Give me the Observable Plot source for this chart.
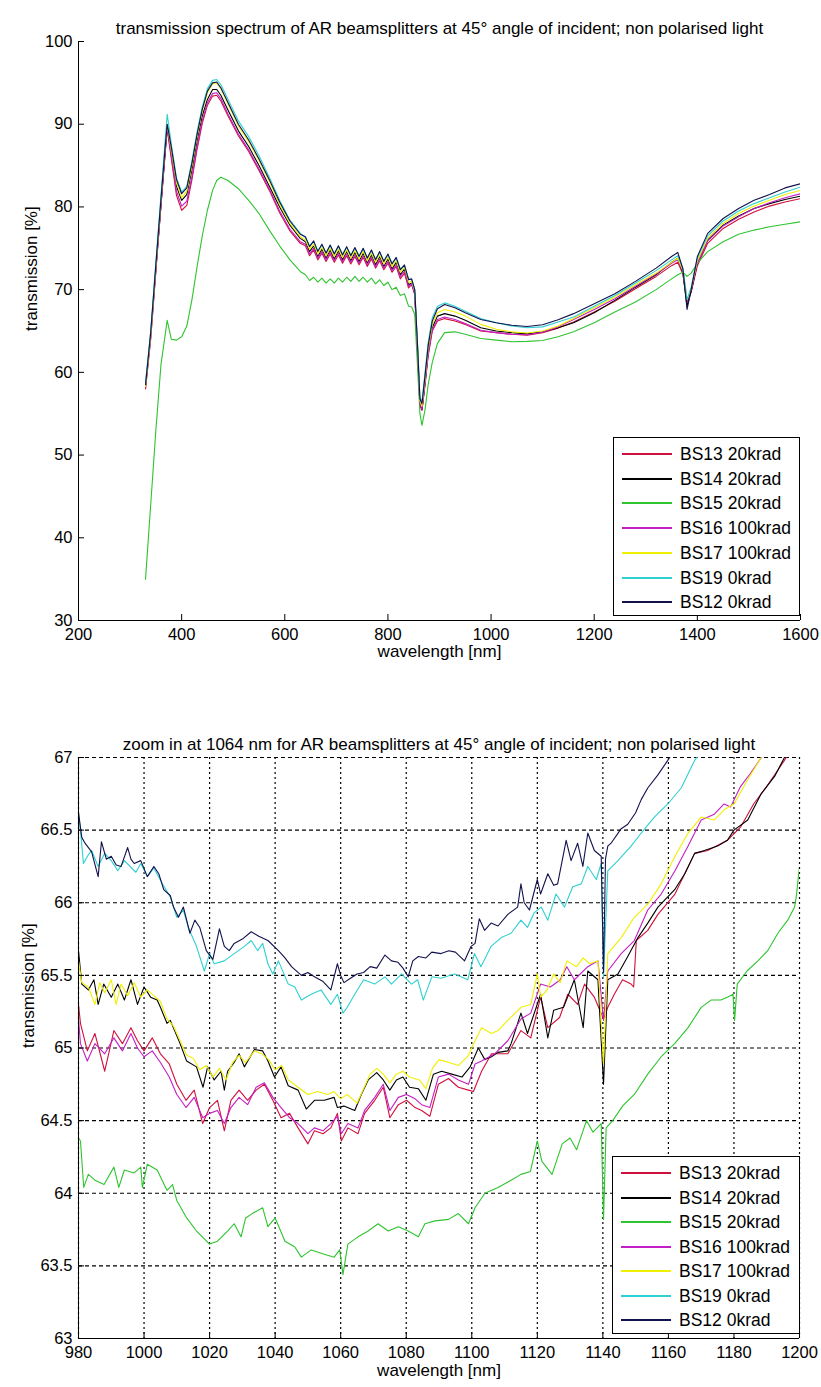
<!DOCTYPE html>
<html><head><meta charset="utf-8">
<script src="https://cdn.jsdelivr.net/npm/d3@7"></script>
<script src="https://cdn.jsdelivr.net/npm/@observablehq/plot@0.6"></script>
<style>
body{margin:0;background:#fff;font-family:"Liberation Sans",Arial,sans-serif;}
#wrap{position:relative;width:821px;height:1387px;background:#fff;overflow:hidden;}
.chart{position:absolute;left:0;}
.chart svg{display:block;}
</style></head><body><div id="wrap"></div>
<script>
// ---------- labels ----------
const names = ["BS13 20krad","BS14 20krad","BS15 20krad","BS16 100krad","BS17 100krad","BS19 0krad","BS12 0krad"];
const colors = ["#d0103c","#000000","#2ec42e","#c41ec4","#f0f000","#2fd0d0","#12124e"];
const titleTop = "transmission spectrum of AR beamsplitters at 45° angle of incident; non polarised light";
const titleZoom = "zoom in at 1064 nm for AR beamsplitters at 45° angle of incident; non polarised light";
const xLabel = "wavelength [nm]";
const yLabel = "transmission [%]";
const xTicksTop = [200,400,600,800,1000,1200,1400,1600];
const yTicksTop = [30,40,50,60,70,80,90,100];
const xTicksZoom = [980,1000,1020,1040,1060,1080,1100,1120,1140,1160,1180,1200];
const yTicksZoom = [63,63.5,64,64.5,65,65.5,66,66.5,67];

// ---------- full spectrum (top) ----------
const wlTop = [330,340,350,360,368,372,380,390,400,410,420,430,440,450,460,468,476,490,510,530,550,570,590,610,630,
640,648,656,664,672,680,688,696,704,712,720,728,736,744,752,760,768,776,784,792,800,808,816,824,832,840,
846,852,858,862,866,872,878,886,896,910,930,950,980,1010,1040,1070,1100,1130,1160,1200,1240,1280,1320,1350,1362,1372,1380,1388,1400,1420,1450,1480,1510,1540,1570,1600];
const topBS13 = [58.0,64.0,72.2,80.2,86.4,89.4,85.8,81.4,79.6,80.2,83.3,87.0,90.1,92.3,93.4,93.5,92.8,91.0,88.6,86.7,84.4,82.0,79.3,77.1,75.6,
75.3,74.1,74.8,73.6,74.4,73.4,74.3,73.3,74.2,73.2,74.1,73.1,74.0,73.0,73.9,72.8,73.7,72.6,73.5,72.4,73.2,72.1,72.8,71.3,72.0,70.2,
70.6,69.4,61.5,56.0,55.4,58.5,62.0,65.0,66.2,66.5,66.2,65.8,65.0,64.8,64.6,64.5,64.8,65.35,66.1,67.3,68.6,70.1,71.6,72.9,73.3,71.9,68.5,69.7,72.9,75.6,77.4,78.5,79.4,80.1,80.6,81.0];
const topBS14 = [58.3,64.5,72.5,80.3,86.7,89.8,86.5,82.5,80.8,81.5,84.5,88.0,91.0,93.0,94.2,94.2,93.5,91.7,89.2,87.3,85.0,82.5,80.0,77.8,76.2,
75.8,74.6,75.3,74.0,74.9,73.8,74.8,73.7,74.7,73.6,74.6,73.5,74.5,73.4,74.4,73.2,74.2,73.0,74.0,72.8,73.7,72.5,73.3,71.8,72.5,70.6,
70.8,69.6,62.0,56.2,55.5,58.8,62.4,65.4,66.8,67.1,66.8,66.3,65.4,65.0,64.8,64.65,64.9,65.4,66.0,67.2,68.7,70.3,71.8,73.3,73.8,72.0,68.0,69.8,73.2,76.0,77.8,78.9,79.8,80.4,80.9,81.3];
const topBS15 = [35.0,44.0,53.0,61.0,64.5,66.3,64.0,63.9,64.3,65.6,68.8,72.8,76.5,79.6,82.0,83.2,83.6,83.2,82.2,80.8,79.2,77.2,75.3,73.6,72.2,
71.8,71.1,71.5,70.9,71.4,70.8,71.3,70.8,71.4,70.9,71.5,71.0,71.6,71.0,71.5,70.9,71.4,70.7,71.2,70.5,70.9,70.0,70.3,69.3,69.5,68.0,
67.9,67.0,60.0,55.0,53.6,55.5,58.5,61.2,63.5,64.8,64.9,64.6,64.1,63.9,63.7,63.75,63.85,64.3,64.9,66.0,67.3,68.5,70.0,71.3,71.8,72.1,71.6,72.0,73.2,74.6,75.8,76.7,77.2,77.6,77.9,78.2];
const topBS16 = [58.2,64.2,72.4,80.4,86.6,89.6,86.1,81.9,80.1,80.7,83.7,87.3,90.4,92.6,93.7,93.8,93.1,91.2,88.8,86.9,84.6,82.2,79.5,77.3,75.8,
75.5,74.3,75.0,73.8,74.6,73.6,74.5,73.5,74.4,73.4,74.3,73.3,74.2,73.2,74.1,73.0,73.9,72.8,73.7,72.6,73.4,72.3,73.0,71.6,72.2,70.4,
70.7,69.5,61.7,56.1,55.5,58.6,62.1,65.1,66.4,66.7,66.4,65.9,65.1,64.8,64.6,64.55,64.85,65.5,66.4,67.6,68.9,70.4,71.9,73.2,73.6,72.2,68.7,69.9,73.2,75.9,77.7,78.8,79.8,80.5,81.1,81.6];
const topBS17 = [58.3,64.4,72.7,80.8,87.2,90.0,86.8,82.9,81.1,81.9,85.0,88.5,91.6,93.8,94.9,95.0,94.3,92.4,89.8,87.9,85.6,83.1,80.3,78.0,76.4,
76.0,74.9,75.5,74.3,75.1,74.1,75.0,74.0,74.9,73.9,74.8,73.8,74.7,73.7,74.6,73.5,74.4,73.3,74.2,73.1,73.9,72.8,73.5,72.1,72.7,70.9,
71.0,69.8,62.3,56.5,55.9,59.2,62.8,65.8,67.2,67.6,67.3,66.8,65.8,65.2,64.9,64.75,65.0,65.6,66.5,67.8,69.1,70.6,72.0,73.3,73.8,72.3,68.8,70.1,73.5,76.2,78.0,79.2,80.1,80.8,81.5,82.0];
const topBS19 = [58.8,65.0,73.3,81.5,88.0,91.2,87.6,83.5,81.8,82.5,85.6,89.1,92.1,94.3,95.3,95.4,94.8,93.0,90.4,88.5,86.2,83.6,80.8,78.4,76.8,
76.3,75.3,75.8,74.7,75.4,74.5,75.3,74.4,75.2,74.3,75.1,74.2,75.0,74.1,74.9,73.9,74.7,73.7,74.5,73.5,74.2,73.2,73.8,72.5,72.9,71.3,
71.2,70.0,62.8,57.0,56.5,60.0,63.6,66.6,68.0,68.4,68.0,67.4,66.5,66.0,65.6,65.4,65.5,66.1,66.7,68.0,69.3,70.8,72.3,73.6,74.1,72.6,68.8,70.3,73.8,76.5,78.3,79.5,80.4,81.1,81.8,82.4];
const topBS12 = [58.5,64.8,73.0,81.0,87.2,90.0,87.2,83.3,81.6,82.3,85.3,88.8,91.8,94.0,95.0,95.1,94.4,92.6,90.0,88.1,85.8,83.3,80.6,78.3,76.7,
76.4,75.2,75.9,74.6,75.5,74.4,75.4,74.3,75.3,74.2,75.2,74.1,75.1,74.0,75.0,73.8,74.8,73.6,74.6,73.4,74.3,73.1,73.9,72.4,73.0,71.2,
71.3,70.0,62.5,56.8,56.2,59.6,63.2,66.2,67.7,68.2,67.8,67.2,66.4,66.0,65.7,65.55,65.75,66.35,67.1,68.3,69.5,71.0,72.6,74.0,74.5,72.5,67.6,70.0,74.0,76.8,78.6,79.8,80.8,81.5,82.3,82.8];

// ---------- zoom 980-1200 nm (bottom): [wavelength, transmission] ----------
const zoomBS13 = [[980,65.3],[980.6,65.17],[982.7,64.98],[985,65.1],[988,64.84],[990.8,65.12],[993.4,65.03],[996,65.14],[998,65.05],[1000,64.98],[1002.5,65.07],[1005,64.96],[1007.7,64.89],[1010,64.75],[1012.8,64.64],[1015.3,64.71],[1017.9,64.48],[1020,64.59],[1022.4,64.64],[1024.5,64.43],[1026.5,64.64],[1029,64.71],[1031.6,64.64],[1034.2,64.71],[1036.7,64.75],[1039.3,64.64],[1041.8,64.52],[1044.4,64.55],[1047,64.45],[1050,64.34],[1052,64.43],[1054.6,64.41],[1057,64.45],[1059,64.55],[1060.2,64.36],[1062.2,64.45],[1065.3,64.41],[1067.3,64.55],[1070.4,64.64],[1073,64.73],[1075,64.52],[1077.6,64.61],[1080.1,64.64],[1082.7,64.59],[1084.7,64.57],[1087.2,64.53],[1089.8,64.75],[1092.9,64.79],[1095.9,64.73],[1099,64.71],[1100.5,64.7],[1103,64.84],[1106,64.96],[1111,64.96],[1115,65.12],[1118,65.07],[1121,65.35],[1123.2,65.14],[1126.8,65.21],[1129.3,65.37],[1132.3,65.3],[1134.4,65.44],[1137.4,65.35],[1140.2,65.2],[1141.5,65.28],[1143.5,65.37],[1146,65.47],[1148.6,65.44],[1149.4,65.42],[1150.2,65.74],[1153.7,65.81],[1156.8,65.92],[1162,66.06],[1168,66.34],[1172,66.36],[1178,66.43],[1182,66.52],[1186,66.68],[1190,66.8],[1195.4,66.98],[1200,67.15]];
const zoomBS14 = [[980,65.67],[981,65.44],[983,65.4],[984.7,65.47],[986,65.3],[987.7,65.44],[990,65.35],[992,65.44],[994,65.33],[996,65.47],[998,65.3],[1000,65.42],[1002,65.35],[1004,65.33],[1005,65.28],[1007,65.17],[1008,65.19],[1011,65.03],[1013,64.91],[1016,64.87],[1018,64.73],[1019.4,64.87],[1021.4,64.78],[1023.5,64.84],[1024.5,64.71],[1025.5,64.84],[1027.5,64.9],[1029,64.96],[1030.6,64.87],[1033.7,64.99],[1036.2,64.98],[1037.8,64.91],[1039.8,64.8],[1041.8,64.87],[1044,64.74],[1047,64.71],[1049.5,64.58],[1052,64.64],[1055,64.64],[1058,64.66],[1059,64.59],[1061,64.6],[1064.3,64.57],[1066.3,64.68],[1068.4,64.78],[1071,64.83],[1073,64.78],[1075,64.71],[1077,64.78],[1079,64.8],[1081,64.73],[1083.7,64.72],[1086,64.64],[1088.3,64.82],[1090.8,64.84],[1093.9,64.82],[1097,64.8],[1099.5,64.87],[1102,65.0],[1104,64.92],[1106,64.94],[1108,64.97],[1111,64.98],[1112,65.03],[1115,65.24],[1117,65.1],[1121,65.37],[1123.2,65.07],[1125,65.26],[1128,65.28],[1131.3,65.47],[1134,65.14],[1135.4,65.53],[1138.5,65.47],[1140.2,64.75],[1141.5,65.47],[1144.6,65.51],[1147.6,65.63],[1150.7,65.76],[1153.7,65.86],[1156.8,65.97],[1159.8,66.04],[1161.9,66.09],[1165,66.2],[1168,66.34],[1171,66.36],[1175,66.39],[1178,66.43],[1180,66.5],[1184.2,66.57],[1188.3,66.75],[1192.4,66.87],[1195.4,67.0],[1200,67.15]];
const zoomBS15 = [[980,64.38],[980.6,64.36],[981.6,64.04],[983,64.13],[985,64.09],[987.8,64.06],[990.8,64.18],[992.3,64.04],[994,64.16],[997,64.14],[999,64.18],[999.5,64.04],[1001,64.2],[1004,64.16],[1007,64.02],[1008.7,64.06],[1010,63.95],[1013,63.83],[1016,63.74],[1020,63.65],[1022.4,63.67],[1025.5,63.74],[1027.5,63.79],[1029.6,63.7],[1031,63.83],[1033,63.86],[1036.2,63.9],[1037.8,63.77],[1040,63.83],[1043,63.67],[1046,63.63],[1048,63.56],[1051,63.61],[1055,63.58],[1058,63.56],[1059.7,63.61],[1060.7,63.44],[1062.2,63.65],[1065.3,63.7],[1068.4,63.74],[1071.4,63.79],[1074.5,63.74],[1077.6,63.77],[1080.6,63.74],[1083.7,63.7],[1085.7,63.79],[1088.8,63.81],[1092.9,63.82],[1095.9,63.86],[1099,63.79],[1101,63.9],[1104,64.0],[1108,64.04],[1112,64.09],[1115,64.13],[1117.9,64.15],[1120,64.36],[1121.4,64.22],[1124.5,64.13],[1127.6,64.34],[1130,64.38],[1132,64.3],[1135,64.5],[1137,64.42],[1139.5,64.48],[1140.2,63.82],[1141,64.45],[1143,64.5],[1146,64.6],[1149.6,64.68],[1153.7,64.82],[1157.8,64.94],[1161.9,65.03],[1166,65.14],[1170,65.28],[1173,65.33],[1176,65.33],[1178,65.35],[1179.7,65.37],[1180.2,65.19],[1181,65.44],[1184,65.53],[1187.3,65.6],[1190.3,65.67],[1193.4,65.79],[1196.4,65.88],[1198.5,65.97],[1199,66.04],[1200,66.25]];
const zoomBS16 = [[980,65.2],[980.6,65.03],[982.7,64.91],[985,65.03],[988,64.96],[990.8,65.07],[993.4,64.98],[996,65.1],[998,65.0],[1000,64.94],[1002.5,64.98],[1005,64.9],[1007.7,64.8],[1010,64.68],[1012.8,64.59],[1015.3,64.66],[1017.9,64.52],[1020,64.55],[1022.4,64.57],[1024.5,64.48],[1026.5,64.59],[1029,64.66],[1031.6,64.61],[1034.2,64.73],[1036.7,64.76],[1039.3,64.66],[1041.8,64.59],[1044.4,64.52],[1047,64.48],[1050,64.41],[1052,64.45],[1054.6,64.43],[1057,64.48],[1059,64.53],[1060.2,64.41],[1062.2,64.48],[1065.3,64.45],[1067.3,64.57],[1070.4,64.66],[1073,64.75],[1075,64.57],[1077.6,64.66],[1080.1,64.68],[1082.7,64.65],[1084.7,64.61],[1087.2,64.59],[1089.8,64.8],[1092.9,64.82],[1095.9,64.78],[1099,64.75],[1101,64.89],[1103,64.91],[1107,64.96],[1111,65.05],[1115,65.2],[1118,65.24],[1121,65.44],[1124,65.42],[1127,65.47],[1129,65.56],[1131.3,65.47],[1135.4,65.56],[1138.5,65.6],[1140.2,65.19],[1141.5,65.53],[1145.6,65.65],[1149.6,65.74],[1153.7,65.95],[1157.8,66.06],[1162,66.22],[1166,66.39],[1170,66.57],[1174,66.61],[1177,66.68],[1179,66.66],[1182,66.8],[1185,66.89],[1189.3,67.03],[1200,67.4]];
const zoomBS17 = [[980,65.6],[981,65.45],[983,65.42],[985,65.3],[986.5,65.45],[988,65.38],[990,65.47],[991.5,65.3],[993,65.44],[995,65.36],[997,65.45],[999,65.35],[1001,65.4],[1003,65.36],[1005,65.32],[1007,65.2],[1009,65.15],[1011,65.05],[1013,64.95],[1015,64.93],[1017,64.85],[1019,64.88],[1021,64.8],[1023,64.86],[1025,64.78],[1027,64.9],[1029,64.95],[1031,64.9],[1033.7,64.98],[1036,64.96],[1038,64.92],[1040,64.85],[1042,64.88],[1044,64.78],[1047,64.73],[1050,64.68],[1053,64.7],[1056,64.68],[1058,64.7],[1060,64.65],[1062,64.68],[1065,64.62],[1067,64.72],[1069,64.82],[1071,64.86],[1073,64.82],[1075,64.76],[1077,64.82],[1079,64.84],[1081,64.8],[1084,64.78],[1086,64.72],[1088,64.86],[1090,64.92],[1093,64.9],[1096,64.88],[1099,64.95],[1101,65.05],[1103,65.14],[1106,65.1],[1108,65.12],[1111,65.19],[1115,65.28],[1118,65.3],[1120,65.51],[1121,65.35],[1123,65.4],[1125,65.51],[1127,65.45],[1129,65.6],[1132,65.56],[1134,65.62],[1136,65.58],[1138.5,65.6],[1140.2,64.89],[1141.5,65.65],[1145.6,65.76],[1149.6,65.9],[1153.7,65.99],[1157.8,66.13],[1162,66.32],[1166,66.48],[1170,66.59],[1174,66.57],[1177,66.64],[1180,66.68],[1184,66.84],[1188.3,67.0],[1200,67.4]];
const zoomBS19 = [[980,66.62],[980.8,66.45],[981.5,66.27],[983,66.33],[984,66.36],[986,66.25],[988,66.34],[990,66.29],[992,66.22],[994,66.29],[997.5,66.21],[999,66.27],[1001,66.18],[1003,66.24],[1005.6,66.13],[1008,66.04],[1010,65.9],[1012,65.95],[1013.5,65.83],[1016,65.7],[1018.4,65.53],[1020,65.65],[1021.4,65.58],[1024.5,65.6],[1027.5,65.65],[1030.6,65.7],[1032.7,65.74],[1034.7,65.67],[1036.2,65.72],[1037.8,65.58],[1039.3,65.51],[1041,65.6],[1044,65.44],[1046,65.42],[1048,65.33],[1051,65.37],[1054,65.4],[1057,65.3],[1059,65.37],[1060.7,65.24],[1062,65.28],[1064.3,65.37],[1067,65.47],[1070.4,65.44],[1073.5,65.49],[1075.5,65.44],[1078.6,65.51],[1081.6,65.44],[1083.5,65.47],[1085.2,65.33],[1087.8,65.49],[1090.6,65.48],[1094.7,65.51],[1098.8,65.47],[1100.8,65.65],[1102.8,65.56],[1105.9,65.7],[1109,65.76],[1112,65.79],[1115,65.88],[1117,65.83],[1119,65.93],[1121.2,65.97],[1123.2,65.88],[1125.7,66.06],[1128.3,65.97],[1130.8,66.11],[1133.4,66.13],[1135.4,66.25],[1138,66.16],[1139.5,66.27],[1140.2,65.49],[1141.5,66.22],[1144.6,66.29],[1148.6,66.39],[1151.7,66.48],[1155.7,66.59],[1159.8,66.68],[1163.9,66.79],[1168,66.98],[1172,67.1],[1185,67.5],[1200,67.9]];
const zoomBS12 = [[980,66.62],[981,66.45],[982,66.41],[984,66.35],[986,66.18],[987,66.42],[988.5,66.3],[990,66.32],[991.5,66.26],[993,66.25],[995,66.38],[996,66.3],[997,66.27],[999,66.29],[1001,66.18],[1003,66.25],[1004.5,66.2],[1006,66.09],[1008,66.05],[1009,65.97],[1010.5,65.9],[1012,65.97],[1014,65.79],[1015.5,65.88],[1017,65.83],[1019,65.67],[1021,65.61],[1023,65.82],[1024.5,65.7],[1026,65.67],[1027.5,65.72],[1030,65.75],[1032.7,65.8],[1035,65.77],[1037.8,65.74],[1041,65.67],[1043,65.62],[1045,65.56],[1048,65.5],[1050,65.52],[1052,65.49],[1054.5,65.46],[1057,65.4],[1059,65.58],[1060,65.5],[1061,65.45],[1063,65.48],[1065,65.51],[1067,65.52],[1069,65.56],[1071,65.55],[1073.5,65.64],[1075.5,65.6],[1077.5,65.59],[1079,65.55],[1080.6,65.49],[1082,65.6],[1083.7,65.63],[1086,65.62],[1087.8,65.66],[1090.6,65.65],[1093,65.67],[1095,65.66],[1097.8,65.6],[1099.8,65.7],[1101,65.72],[1102.3,65.89],[1103.9,65.81],[1105.9,65.86],[1108,65.84],[1111,65.92],[1114,65.97],[1115,66.13],[1116,66.0],[1117.6,65.95],[1120,66.16],[1121,66.06],[1123.2,66.2],[1125,66.12],[1126.2,66.13],[1128.8,66.43],[1130.3,66.29],[1132.3,66.41],[1133.9,66.25],[1135.4,66.48],[1137.4,66.36],[1139.5,66.32],[1140.2,65.52],[1140.8,66.3],[1141.5,66.39],[1142.5,66.41],[1145.6,66.51],[1147.6,66.54],[1150,66.62],[1151.7,66.71],[1153.7,66.79],[1156.8,66.88],[1159.8,66.98],[1162,67.06],[1170,67.3],[1185,67.7],[1200,68.1]];

const topSeries = [topBS13, topBS14, topBS15, topBS16, topBS17, topBS19, topBS12];
const zoomSeries = [zoomBS13, zoomBS14, zoomBS15, zoomBS16, zoomBS17, zoomBS19, zoomBS12];

const FONT = "'Liberation Sans', Arial, Helvetica, sans-serif";
const wrap = document.getElementById("wrap");

// ---------- top chart ----------
const W = 821;
const topH = 680, topM = {l: 78, r: 21, t: 41, b: 60};
const topPW = W - topM.l - topM.r, topPH = topH - topM.t - topM.b;
const topPlot = Plot.plot({
  width: W, height: topH,
  marginLeft: topM.l, marginRight: topM.r, marginTop: topM.t, marginBottom: topM.b,
  style: {fontFamily: FONT, fontSize: "16px", background: "#fff", color: "#000", overflow: "visible"},
  x: {domain: [200, 1600]},
  y: {domain: [30, 100]},
  marks: [
    ...topSeries.map((vals, i) => Plot.line(wlTop.map((w, j) => ({w, v: vals[j]})),
      {x: "w", y: "v", stroke: colors[i], strokeWidth: 1.1, clip: true})),
    Plot.tickX(xTicksTop, {x: d => d, insetTop: topPH - 6, stroke: "#000"}),
    Plot.tickY(yTicksTop, {y: d => d, insetRight: topPW - 6, stroke: "#000"}),
    Plot.ruleX([200], {stroke: "#000"}),
    Plot.ruleY([30], {stroke: "#000"}),
    Plot.axisX({ticks: xTicksTop, tickSize: 0, tickPadding: 8, label: null, tickFormat: d => String(d), fontSize: 16.5}),
    Plot.axisY({ticks: yTicksTop, tickSize: 0, tickPadding: 6, label: null, tickFormat: d => String(d), fontSize: 16.5}),
    Plot.text([xLabel], {frameAnchor: "bottom", dy: 36, fontSize: 17, fill: "#000"}),
    Plot.text([yLabel], {frameAnchor: "left", dx: -47, rotate: -90, fontSize: 17, fill: "#000"}),
    Plot.text([titleTop], {frameAnchor: "top", dy: -20, fontSize: 17, fill: "#000"})
  ]
});
const d1 = document.createElement("div"); d1.className = "chart"; d1.style.top = "0px";
d1.appendChild(topPlot); wrap.appendChild(d1);

// ---------- zoom chart ----------
const zTop = 700, zH = 687, zM = {l: 78, r: 22, t: 57, b: 49};
const zPW = W - zM.l - zM.r, zPH = zH - zM.t - zM.b;
const zoomPlot = Plot.plot({
  width: W, height: zH,
  marginLeft: zM.l, marginRight: zM.r, marginTop: zM.t, marginBottom: zM.b,
  style: {fontFamily: FONT, fontSize: "16px", background: "#fff", color: "#000", overflow: "visible"},
  x: {domain: [980, 1200]},
  y: {domain: [63, 67]},
  marks: [
    Plot.ruleX(xTicksZoom, {stroke: "#000", strokeWidth: 1.2, strokeDasharray: "2,3"}),
    Plot.ruleY(yTicksZoom, {stroke: "#000", strokeWidth: 1.2, strokeDasharray: "4,3"}),
    ...zoomSeries.map((pts, i) => Plot.line(pts, {x: d => d[0], y: d => d[1], stroke: colors[i], strokeWidth: 1.1, clip: true})),
    Plot.tickX(xTicksZoom, {x: d => d, insetTop: zPH - 6, stroke: "#000"}),
    Plot.tickY(yTicksZoom, {y: d => d, insetRight: zPW - 6, stroke: "#000"}),
    Plot.ruleX([980], {stroke: "#000"}),
    Plot.ruleY([63], {stroke: "#000"}),
    Plot.axisX({ticks: xTicksZoom, tickSize: 0, tickPadding: 8, label: null, tickFormat: d => String(d), fontSize: 16.5}),
    Plot.axisY({ticks: yTicksZoom, tickSize: 0, tickPadding: 6, label: null, tickFormat: d => String(d), fontSize: 16.5}),
    Plot.text([xLabel], {frameAnchor: "bottom", dy: 37, fontSize: 17, fill: "#000"}),
    Plot.text([yLabel], {frameAnchor: "left", dx: -50, rotate: -90, fontSize: 17, fill: "#000"}),
    Plot.text([titleZoom], {frameAnchor: "top", dy: -20, fontSize: 17, fill: "#000"})
  ]
});
const d2 = document.createElement("div"); d2.className = "chart"; d2.style.top = zTop + "px";
d2.appendChild(zoomPlot); wrap.appendChild(d2);

// ---------- legends ----------
function addLegend(left, top, w, h, rowStart, rowStep) {
  const box = document.createElement("div");
  box.style.cssText = `position:absolute;left:${left}px;top:${top}px;width:${w}px;height:${h}px;border:1px solid #000;background:#fff;box-sizing:border-box;font-family:${FONT};`;
  names.forEach((n, i) => {
    const cy = Math.round(rowStart + i * rowStep);
    const ln = document.createElement("div");
    ln.style.cssText = `position:absolute;left:8px;top:${cy}px;width:50px;height:2px;background:${colors[i]};`;
    const tx = document.createElement("div");
    tx.textContent = n;
    tx.style.cssText = `position:absolute;left:66px;top:${cy - 10}px;height:22px;line-height:22px;font-size:17.5px;color:#000;white-space:nowrap;`;
    box.appendChild(ln); box.appendChild(tx);
  });
  wrap.appendChild(box);
}
addLegend(613, 437, 187, 179, 15, 24.7);
addLegend(612, 1156, 188, 178, 15, 24.5);
</script>
</body></html>
